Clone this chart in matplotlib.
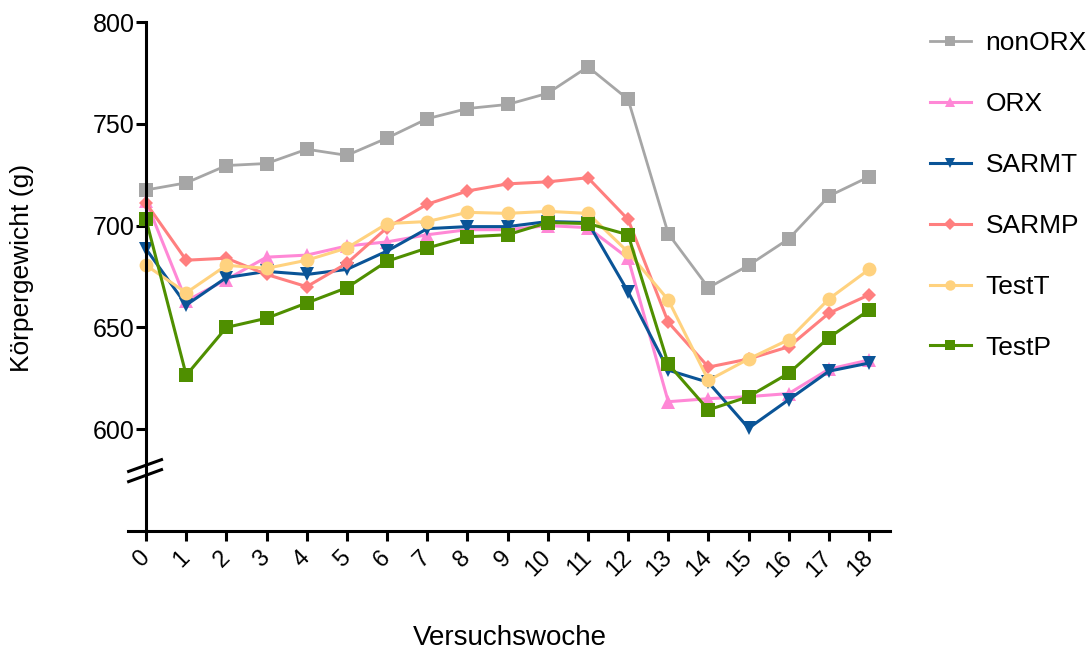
import matplotlib
matplotlib.use("Agg")
import matplotlib.pyplot as plt

plt.rcParams['font.family'] = ['Liberation Sans', 'DejaVu Sans']

weeks = list(range(19))
nonORX = [717.5, 721, 729.5, 730.5, 737.5, 734.5, 743, 752.5, 757.5, 759.5, 765, 778, 762, 696, 669.5, 680.5, 693.5, 714.5, 724]
ORX    = [712, 663, 673.5, 684.5, 685.5, 690, 692, 695.5, 698, 698, 700, 699, 684, 613.5, 615, 616, 617.5, 629.5, 634]
SARMT  = [688.5, 661, 674.5, 677.5, 676, 678.5, 687.5, 698.5, 699.5, 699.5, 702, 701.5, 667.5, 629, 623, 600.5, 614.5, 628.5, 632.5]
SARMP  = [711, 683, 684, 676, 670, 681.5, 699, 710.5, 717, 720.5, 721.5, 723.5, 703, 652.5, 630.5, 634.5, 640.5, 657, 666]
TestT  = [680.5, 667, 680.5, 679, 683, 689, 701, 702, 706.5, 706, 707, 706, 687, 663.5, 624, 634.5, 644, 664, 678.5]
TestP  = [703, 626.5, 650, 654.5, 662, 669.5, 682.5, 689, 694.5, 695.5, 701.5, 701, 695.5, 632, 609.5, 616, 627.5, 645, 658.5]

series_names = ['nonORX', 'ORX', 'SARMT', 'SARMP', 'TestT', 'TestP']
series_vals = [nonORX, ORX, SARMT, SARMP, TestT, TestP]
colors = ['#A6A6A6', '#FF88D6', '#0A5497', '#FF7F7F', '#FFD27F', '#4F8F00']
markers = ['s', '^', 'v', 'D', 'o', 's']
msizes = [10, 10, 10, 7.5, 10, 10]
lwidths = [2.0, 2.2, 2.2, 2.2, 2.2, 2.2]

yticks = [600, 650, 700, 750, 800]

fig = plt.figure(figsize=(10.91, 6.52), dpi=100)
ax = fig.add_axes([128/1091, 1-531/652, (890-128)/1091, (531-22)/652])

for name, vals, c, m, ms, lw in zip(series_names, series_vals, colors, markers, msizes, lwidths):
    ax.plot(weeks, vals, color=c, marker=m, markersize=ms, linewidth=lw,
            markeredgewidth=0, label=name, clip_on=False)

ax.set_xlim(-0.45, 18.52)
ax.set_ylim(550, 800)
ax.set_yticks(yticks)
ax.set_xticks(weeks)
ax.set_xticklabels([str(w) for w in weeks])

for s in ['top', 'right']:
    ax.spines[s].set_visible(False)
ax.spines['left'].set_position(('data', 0))
ax.spines['left'].set_linewidth(2.2)
ax.spines['bottom'].set_linewidth(2.2)
ax.tick_params(axis='both', which='major', width=2.2, length=7, direction='out', labelsize=18, color='black')
ax.tick_params(axis='y', pad=1)
ax.tick_params(axis='x', labelsize=17, pad=10)
for lbl in ax.get_xticklabels():
    lbl.set_rotation(45)
    lbl.set_ha('right')
    lbl.set_va('center')
    lbl.set_rotation_mode('anchor')

# axis break marks
ax.plot([-0.47, 0.42], [579, 585.3], color='black', lw=2.2, clip_on=False, solid_capstyle='butt')
ax.plot([-0.47, 0.42], [574, 580.4], color='black', lw=2.2, clip_on=False, solid_capstyle='butt')

fig.text(22/1091, 1-268/652, 'Körpergewicht (g)', rotation=90, fontsize=19, ha='center', va='center')
fig.text(510/1091, 1-638/652, 'Versuchswoche', fontsize=20, ha='center', va='center')

leg = ax.legend(loc='upper left', bbox_to_anchor=(930/1091, 1-31/652), bbox_transform=fig.transFigure,
                frameon=False, fontsize=19, handlelength=1.55, handletextpad=0.55,
                labelspacing=1.4, markerscale=0.75, borderaxespad=0, borderpad=0)

fig.savefig('out.png', dpi=100)
